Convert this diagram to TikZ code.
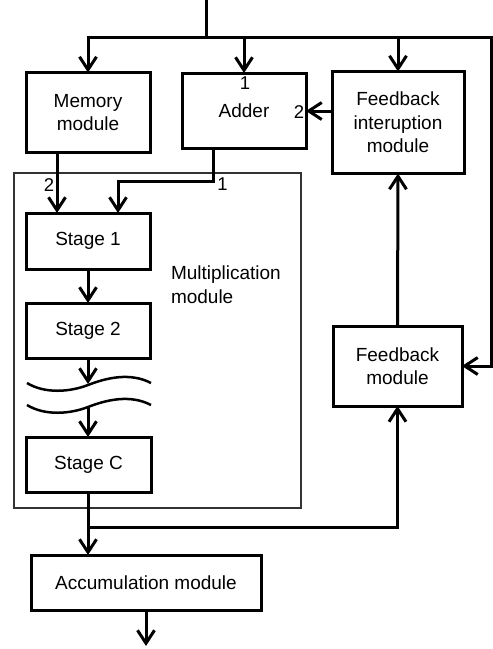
\documentclass[tikz,border=0pt]{standalone}
\usepackage{fontspec}
\setmainfont{Liberation Sans}
\usetikzlibrary{arrows.meta}
\begin{document}
\begin{tikzpicture}[x=1pt,y=-1pt,
  every node/.style={font=\fontsize{19}{23.5}\selectfont, inner sep=0pt, outer sep=0pt},
  blk/.style={draw, line width=3pt, rectangle, align=center},
  line/.style={line width=3pt},
  arr/.style={line width=3pt, -{Straight Barb[length=13pt,width=17pt,line width=3pt]}},
  lbl/.style={font=\fontsize{18.5}{20}\selectfont}]
\useasboundingbox (0,0) rectangle (493,649);
% frame of multiplication module
\node[draw, line width=1.3pt, draw=black!80, minimum width=287pt, minimum height=335pt] (frame) at (157.5,340.5) {};
\node[align=left, anchor=west] (multxt) at (171,284.5) {Multiplication\\module};
% blocks
\node[blk, minimum width=124pt, minimum height=80pt] (mem) at (88,112.5) {Memory\\module};
\node[blk, minimum width=124pt, minimum height=75pt] (add) at (244,110.5) {Adder};
\node[blk, minimum width=132pt, minimum height=102pt] (fi) at (398,122.5) {Feedback\\interuption\\module};
\node[blk, minimum width=124pt, minimum height=56pt] (s1) at (88,241) {Stage 1};
\node[blk, minimum width=124pt, minimum height=55pt] (s2) at (88,330.5) {Stage 2};
\node[blk, minimum width=125pt, minimum height=55pt] (sc) at (88.5,464.5) {Stage C};
\node[blk, minimum width=129pt, minimum height=80pt] (fb) at (397.5,366) {Feedback\\module};
\node[blk, minimum width=230pt, minimum height=55pt] (acc) at (146,582.5) {Accumulation module};
% port labels
\node[lbl] (l1) at (245,83) {1};
\node[lbl] (l2) at (299,112.5) {2};
\node[lbl] (l3) at (49,185) {2};
\node[lbl] (l4) at (222.5,184) {1};
% coordinates
\coordinate (in) at (206,0);
\coordinate (j) at (206,37);
\coordinate (tr) at (491,37);
\coordinate (w1) at (88,384);
\coordinate (w2) at (88,406);
\coordinate (bj) at (88,527);
\coordinate (out) at (146,646);
\coordinate (ab) at (213,181);
% input distribution
\draw[line] (in) -- (j);
\draw[arr] (j) -| (mem.north);
\draw[arr] (j) -| (add.north);
\draw[arr] (j) -| (fi.north);
\draw[arr] (j) -- (tr) |- (fb.east);
% feedback interruption to adder
\draw[arr] (fi.west |- 0,111) -- (add.east |- 0,111);
% memory and adder into stage 1
\draw[arr] ([xshift=-31pt]mem.south) -- ([xshift=-31pt]s1.north);
\draw[arr] ([xshift=-31pt]add.south) -- (ab) -| ([xshift=30pt]s1.north);
% pipeline
\draw[arr] (s1) -- (s2);
\draw[arr] (s2.south) -- (w1);
\draw[arr] (w2) -- (sc.north -| w2);
% waves
\draw[line width=2.5pt] (27,383) .. controls (45,394) and (70,392) .. (88,385) .. controls (106,378) and (130,372) .. (151,383);
\draw[line width=2.5pt] (27,405) .. controls (45,416) and (70,414) .. (88,407) .. controls (106,400) and (130,394) .. (151,405);
% output
\draw[line] (sc.south -| bj) -- (bj);
\draw[arr] (bj) -- (acc.north -| bj);
\draw[arr] (bj) -| (fb.south);
\draw[arr] (fb.north) -- (fi.south);
\draw[arr] (acc.south) -- (out);
\end{tikzpicture}
\end{document}
